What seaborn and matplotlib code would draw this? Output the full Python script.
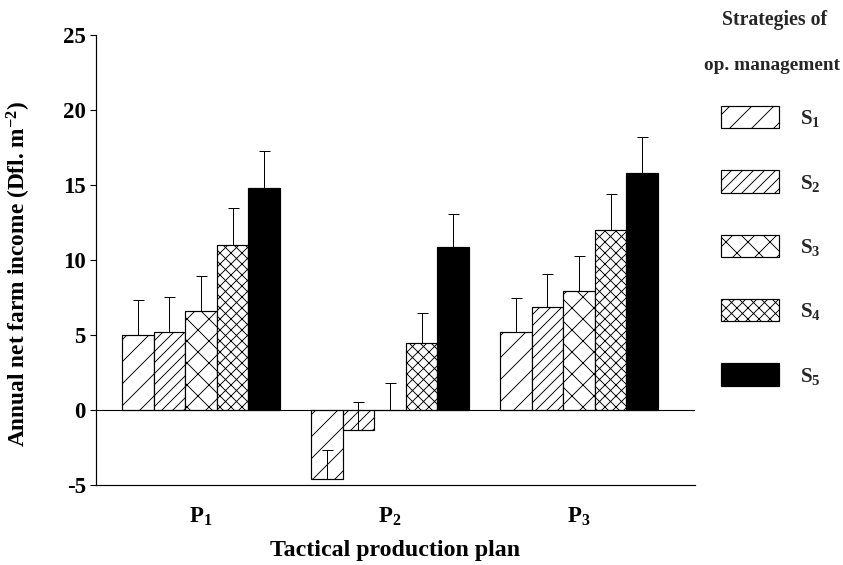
import numpy as np
import pandas as pd
import seaborn as sns
import matplotlib.pyplot as plt
import matplotlib.patches as mpatches

# Tactical production plans and strategies of operational management
plans = ["P$_1$", "P$_2$", "P$_3$"]
strategies = ["S$_1$", "S$_2$", "S$_3$", "S$_4$", "S$_5$"]

# Annual net farm income (Dfl. m-2) per strategy, ordered P1, P2, P3
income_s1 = [5.0, -4.6, 5.2]
income_s2 = [5.2, -1.3, 6.9]
income_s3 = [6.6, 0.0, 7.95]
income_s4 = [11.0, 4.45, 12.0]
income_s5 = [14.8, 10.9, 15.8]

# One-sided standard deviations
err_s1 = [2.35, 1.93, 2.27]
err_s2 = [2.31, 1.85, 2.16]
err_s3 = [2.35, 1.82, 2.29]
err_s4 = [2.45, 2.0, 2.4]
err_s5 = [2.47, 2.15, 2.42]

y_ticks = [-5, 0, 5, 10, 15, 20, 25]

incomes = [income_s1, income_s2, income_s3, income_s4, income_s5]
errors = [err_s1, err_s2, err_s3, err_s4, err_s5]
hatches = ["/", "//", "x", "xx", ""]
fills = ["white", "white", "white", "white", "black"]

df = pd.DataFrame(
    [(p, s, v) for s, vals in zip(strategies, incomes) for p, v in zip(plans, vals)],
    columns=["plan", "strategy", "income"],
)

sns.set_theme(style="white")
plt.rcParams["font.family"] = ["Liberation Serif", "DejaVu Serif"]
plt.rcParams["font.weight"] = "bold"
plt.rcParams["mathtext.fontset"] = "custom"
plt.rcParams["mathtext.rm"] = "Liberation Serif:bold"
plt.rcParams["mathtext.it"] = "Liberation Serif:bold"
plt.rcParams["mathtext.bf"] = "Liberation Serif:bold"
plt.rcParams["axes.unicode_minus"] = False
plt.rcParams["hatch.linewidth"] = 1.0
plt.rcParams["hatch.color"] = "black"

DPI = 66
fig = plt.figure(figsize=(843 / DPI, 565 / DPI), dpi=DPI)
ax = fig.add_axes([96 / 843, 1 - 485 / 565, 599 / 843, 450 / 565])

sns.barplot(
    data=df, x="plan", y="income", hue="strategy", order=plans,
    hue_order=strategies, palette=fills, saturation=1, width=0.836, gap=0,
    edgecolor="black", linewidth=1.3, errorbar=None, legend=False, ax=ax,
)

# Hatch each strategy's bars and add the upward error bars from the bar ends
for container, hatch, vals, err in zip(ax.containers, hatches, incomes, errors):
    xs = []
    for bar in container:
        bar.set_hatch(hatch)
        xs.append(bar.get_x() + bar.get_width() / 2)
    ax.errorbar(xs, vals, yerr=[np.zeros(len(err)), err], fmt="none",
                ecolor="black", elinewidth=1.1, capsize=6, capthick=1.1, zorder=5)

ax.axhline(0, color="black", lw=1.2, zorder=4)

ax.set_ylim(-5, 25)
ax.set_xlim(-0.556, 2.614)
ax.set_yticks(y_ticks)
ax.set_yticklabels([str(t) for t in y_ticks])

for side in ["top", "right"]:
    ax.spines[side].set_visible(False)
for side in ["left", "bottom"]:
    ax.spines[side].set_color("black")
    ax.spines[side].set_linewidth(1.3)

ax.tick_params(axis="y", left=True, length=7, width=1.2, color="black",
               labelsize=25, pad=4, labelcolor="black")
ax.tick_params(axis="x", bottom=False, length=0, labelsize=25, pad=23,
               labelcolor="black")

ax.set_xlabel("Tactical production plan", fontsize=26, fontweight="bold",
              color="black")
ax.set_ylabel("Annual net farm income (Dfl. m$^{-2}$)", fontsize=25.5,
              fontweight="bold", color="black")
ax.xaxis.set_label_coords(0.5, -0.123)
ax.yaxis.set_label_coords(-0.105, 0.47)

# Legend for the strategies
handles = [
    mpatches.Patch(facecolor=f, edgecolor="black", hatch=h, linewidth=1.3)
    for f, h in zip(fills, hatches)
]
fig.legend(
    handles, strategies, loc="upper left",
    bbox_to_anchor=(721 / 843, 1 - 106 / 565), frameon=False,
    fontsize=23, handlelength=2.75, handleheight=1.25, handletextpad=1.0,
    labelspacing=1.95, borderpad=0, borderaxespad=0,
)
fig.text(775 / 843, 1 - 20 / 565, "Strategies of", ha="center", va="center",
         fontsize=21.5, fontweight="bold")
fig.text(772 / 843, 1 - 66 / 565, "op. management", ha="center", va="center",
         fontsize=21, fontweight="bold")

fig.savefig("out.png", dpi=DPI, facecolor="white")
